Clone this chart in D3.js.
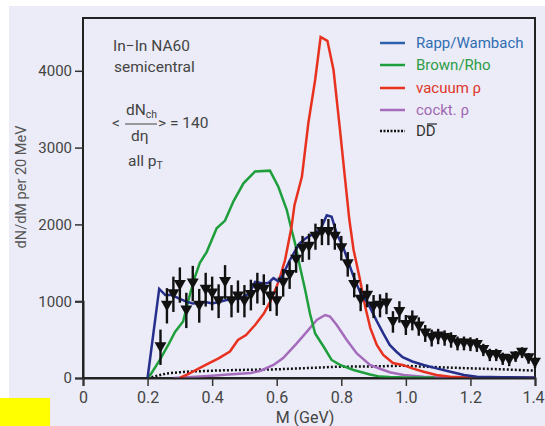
<!DOCTYPE html>
<html lang="en">
<head>
<meta charset="UTF-8">
<title>NA60 dimuon spectrum</title>
<style>
  body { margin: 0; background: #fff; }
  svg { display: block; }
  text { font-family: Roboto, "Open Sans", sans-serif; }
</style>
</head>
<body>
<div id="chart"></div>
<script src="https://cdnjs.cloudflare.com/ajax/libs/d3/7.8.5/d3.min.js"></script>
<script>
// data: M (GeV) and dN/dM per 20 MeV
const dataM = d3.range(59).map(i => +(0.24 + i * 0.02).toFixed(2));
const dataY = [400, 940, 1090, 1210, 880, 1230, 940, 1150, 1100, 1000,
               1250, 1000, 1060, 1000, 1080, 1170, 1150, 1060, 1000, 1240,
               1340, 1540, 1680, 1710, 1840, 1900, 1900, 1840, 1690, 1480,
               1210, 1020, 1070, 930, 940, 970, 730, 860, 690, 750,
               670, 580, 520, 540, 520, 495, 450, 450, 440, 430,
               365, 300, 300, 250, 234, 280, 330, 256, 200];
const dataErr = [230, 230, 230, 230, 230, 230, 220, 220, 220, 220,
                 220, 210, 210, 210, 200, 200, 200, 190, 190, 180,
                 180, 170, 170, 170, 170, 170, 170, 170, 160, 160,
                 160, 150, 150, 150, 150, 140, 140, 140, 130, 130,
                 120, 110, 110, 100, 100, 100, 90, 90, 90, 90,
                 80, 80, 80, 80, 80, 70, 70, 70, 70];

const rapp = [[0.20,0],[0.236,1160],[0.255,1080],[0.275,1080],[0.295,1040],[0.32,995],[0.34,970],
  [0.36,975],[0.38,990],[0.40,970],[0.42,990],[0.445,1015],[0.485,1035],[0.515,1100],[0.533,1250],
  [0.56,1230],[0.575,1240],[0.59,1300],[0.605,1260],[0.62,1350],[0.64,1530],[0.67,1750],[0.69,1820],
  [0.715,1880],[0.735,1930],[0.755,2120],[0.77,2100],[0.786,1880],[0.807,1690],[0.822,1510],
  [0.838,1320],[0.858,1120],[0.884,960],[0.91,740],[0.93,580],[0.95,430],[0.97,345],[0.99,270],
  [1.02,215],[1.055,170],[1.095,125],[1.135,85],[1.18,40],[1.22,17],[1.30,10],[1.40,8]];

const brown = [[0.20,0],[0.21,50],[0.238,235],[0.264,430],[0.285,600],[0.31,735],[0.332,1100],
  [0.347,1320],[0.362,1500],[0.383,1640],[0.414,1950],[0.44,2050],[0.466,2300],[0.497,2535],
  [0.533,2690],[0.579,2700],[0.605,2490],[0.631,2190],[0.646,1930],[0.657,1750],[0.672,1450],
  [0.688,1150],[0.703,840],[0.719,580],[0.745,410],[0.77,235],[0.796,170],[0.838,105],
  [0.889,45],[0.92,18],[0.95,12],[1.0,8],[1.09,5]];

const vacuum = [[0.30,0],[0.33,60],[0.38,170],[0.42,255],[0.455,345],[0.48,495],[0.505,560],
  [0.533,690],[0.56,840],[0.58,995],[0.60,1190],[0.612,1340],[0.626,1540],[0.646,1970],
  [0.655,2250],[0.678,2620],[0.698,3320],[0.719,3880],[0.736,4440],[0.757,4390],[0.776,4010],
  [0.796,3230],[0.812,2580],[0.825,2060],[0.838,1670],[0.858,1280],[0.874,930],[0.89,650],
  [0.91,430],[0.93,300],[0.96,195],[0.99,170],[1.02,125],[1.055,82],[1.095,40],[1.137,15],
  [1.19,5],[1.40,3]];

const cocktail = [[0.28,0],[0.35,15],[0.40,30],[0.45,45],[0.52,65],[0.55,95],[0.59,170],
  [0.62,260],[0.662,450],[0.693,600],[0.724,755],[0.75,820],[0.765,800],[0.786,690],[0.817,495],
  [0.848,320],[0.889,170],[0.92,120],[0.95,75],[0.993,39],[1.055,17],[1.15,6],[1.25,3]];

const charm = [[0.20,0],[0.218,17],[0.26,60],[0.32,82],[0.40,95],[0.47,104],[0.60,113],[0.70,130],
  [0.79,147],[0.89,150],[0.99,160],[1.10,140],[1.20,126],[1.30,113],[1.40,95]];

const xTicks = [0, 0.2, 0.4, 0.6, 0.8, 1.0, 1.2, 1.4];
const yTicks = [0, 1000, 2000, 3000, 4000];

const legendItems = [
  {name: "Rapp/Wambach", line: "#2d62ad", text: "#2f6db3"},
  {name: "Brown/Rho", line: "#1f9e3c", text: "#2b9d46"},
  {name: "vacuum \u03c1", line: "#e8311f", text: "#e0352b"},
  {name: "cockt. \u03c1", line: "#a56cbc", text: "#a066b3"},
  {name: "DD", line: "#111", text: "#333", dotted: true}
];

const W = 545, H = 426;
const x = d3.scaleLinear().domain([0, 1.4]).range([83, 535]);
const y = d3.scaleLinear().domain([0, 1000]).range([378, 301.2]);
const plotTop = 18;

const svg = d3.select("#chart").append("svg").attr("width", W).attr("height", H);

svg.append("rect").attr("x", 9).attr("y", 6).attr("width", W - 9).attr("height", H - 6)
  .attr("fill", "#ebecf7");
svg.append("rect").attr("x", 0).attr("y", 398).attr("width", 50).attr("height", 28)
  .attr("fill", "#ffff00");

// frame
svg.append("rect").attr("x", 83).attr("y", plotTop).attr("width", 535 - 83).attr("height", 378 - plotTop)
  .attr("fill", "none").attr("stroke", "#222").attr("stroke-width", 2);

const line = d3.line().x(d => x(d[0])).y(d => y(d[1]));

svg.append("path").datum(charm).attr("d", line).attr("fill", "none")
  .attr("stroke", "#111").attr("stroke-width", 2.5).attr("stroke-dasharray", "2,2");
svg.append("path").datum(cocktail).attr("d", line).attr("fill", "none")
  .attr("stroke", "#a56cbc").attr("stroke-width", 2.5);
svg.append("path").datum(brown).attr("d", line).attr("fill", "none")
  .attr("stroke", "#1f9e3c").attr("stroke-width", 2.5);
svg.append("path").datum(vacuum).attr("d", line).attr("fill", "none")
  .attr("stroke", "#e8311f").attr("stroke-width", 2.5);
svg.append("path").datum(rapp).attr("d", line).attr("fill", "none")
  .attr("stroke", "#262f8c").attr("stroke-width", 2.5);

// data points
const pts = dataM.map((m, i) => ({m: m, v: dataY[i], e: dataErr[i]}));
const g = svg.append("g");
g.selectAll("line.err").data(pts).join("line")
  .attr("class", "err")
  .attr("x1", d => x(d.m)).attr("x2", d => x(d.m))
  .attr("y1", d => y(d.v + d.e)).attr("y2", d => y(d.v - d.e))
  .attr("stroke", "#111").attr("stroke-width", 2.4);
g.selectAll("path.tri").data(pts).join("path")
  .attr("class", "tri")
  .attr("d", d => {
    const cx = x(d.m), cy = y(d.v);
    return `M${cx - 6},${cy - 5}L${cx + 6},${cy - 5}L${cx},${cy + 5.5}Z`;
  })
  .attr("fill", "#111");

// axes
const yAxis = svg.append("g").attr("transform", "translate(83,0)")
  .call(d3.axisLeft(y).tickValues(yTicks).tickSize(8).tickPadding(3).tickFormat(d3.format("d")));
const xAxis = svg.append("g").attr("transform", "translate(0,378)")
  .call(d3.axisBottom(x).tickValues(xTicks).tickSize(8).tickPadding(6)
    .tickFormat(d => d === 0 ? "0" : d.toFixed(1)));
[yAxis, xAxis].forEach(a => {
  a.select(".domain").attr("stroke", "#222").attr("stroke-width", 2);
  a.selectAll(".tick line").attr("stroke", "#333").attr("stroke-width", 1.5);
  a.selectAll(".tick text").attr("fill", "#444").style("font-family", "Roboto, sans-serif");
});
yAxis.selectAll(".tick text").attr("font-size", 15);
xAxis.selectAll(".tick text").attr("font-size", 16);
xAxis.selectAll(".tick text").filter(d => d === 1.4).attr("dx", -2);

svg.append("text").attr("x", 305).attr("y", 423).attr("text-anchor", "middle")
  .attr("font-size", 16).attr("fill", "#444").text("M (GeV)");
svg.append("text").attr("transform", "translate(26,187) rotate(-90)").attr("text-anchor", "middle")
  .attr("font-size", 14.5).attr("fill", "#555").text("dN/dM per 20 MeV");

// annotation
const ann = svg.append("g").attr("fill", "#444").attr("font-size", 15.5);
ann.append("text").attr("x", 113).attr("y", 51).text("In\u2212In NA60");
ann.append("text").attr("x", 114).attr("y", 72).text("semicentral");
ann.append("text").attr("x", 112).attr("y", 128).text("<");
const num = ann.append("text").attr("x", 126).attr("y", 115).text("dN");
num.append("tspan").attr("font-size", 10.5).attr("dy", 3).text("ch");
ann.append("line").attr("x1", 125).attr("x2", 157).attr("y1", 124).attr("y2", 124)
  .attr("stroke", "#444").attr("stroke-width", 1);
ann.append("text").attr("x", 131).attr("y", 141).text("d\u03b7");
ann.append("text").attr("x", 158).attr("y", 128).text("> = 140");
const pt = ann.append("text").attr("x", 128).attr("y", 166).text("all p");
pt.append("tspan").attr("font-size", 10.5).attr("dy", 3).text("T");

// legend
const leg = svg.append("g");
const rowY = [43, 65, 88, 110, 131];
legendItems.forEach((it, i) => {
  leg.append("line").attr("x1", 380).attr("x2", 405).attr("y1", rowY[i]).attr("y2", rowY[i])
    .attr("stroke", it.line).attr("stroke-width", 2.5)
    .attr("stroke-dasharray", it.dotted ? "2,1.5" : null);
  leg.append("text").attr("x", 416).attr("y", rowY[i] + 5)
    .attr("font-size", 15).attr("fill", it.text).text(it.name);
  if (it.dotted) {
    leg.append("line").attr("x1", 427).attr("x2", 437).attr("y1", rowY[i] - 7).attr("y2", rowY[i] - 7)
      .attr("stroke", it.text).attr("stroke-width", 1.3);
  }
});
</script>
</body>
</html>
